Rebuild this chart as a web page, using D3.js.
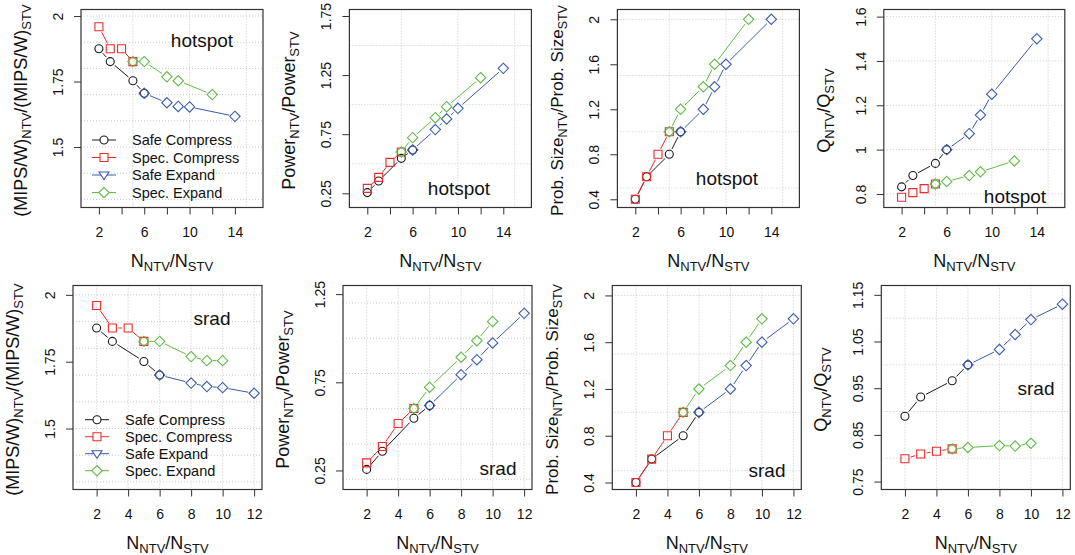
<!DOCTYPE html>
<html>
<head>
<meta charset="utf-8">
<script src="https://cdn.jsdelivr.net/npm/d3@7"></script>
<style>
  body { margin: 0; background: #fff; }
  text { font-family: "Liberation Sans", Arial, Helvetica, sans-serif; fill: #111; }
</style>
</head>
<body>
<div id="visualization"></div>
<script>
// series order: Safe Compress, Spec. Compress, Safe Expand, Spec. Expand
var seriesNames = ["Safe Compress", "Spec. Compress", "Safe Expand", "Spec. Expand"];

// x values (N_NTV / N_STV) for each series
var safeCompressX = [2, 3, 5, 6];
var specCompressX = [2, 3, 4, 5];
var safeExpandHotspotX = [6, 8, 9, 10, 14];
var specExpandHotspotX = [5, 6, 8, 9, 12];
var safeExpandSradX = [6, 8, 9, 10, 12];
var specExpandSradX = [5, 6, 8, 9, 10];

// hotspot
var hotspotMipsW = [[1.875, 1.826, 1.753, 1.705], [1.959, 1.875, 1.875, 1.826],
                    [1.705, 1.669, 1.655, 1.653, 1.617], [1.826, 1.826, 1.768, 1.753, 1.70]];
var hotspotPower = [[0.256, 0.354, 0.546, 0.617], [0.292, 0.385, 0.512, 0.60],
                    [0.617, 0.789, 0.879, 0.969, 1.307], [0.60, 0.721, 0.89, 0.983, 1.228]];
var hotspotProbSize = [[0.4, 0.6, 0.8, 1.0], [0.4, 0.6, 0.8, 1.0],
                       [1.0, 1.2, 1.4, 1.6, 2.0], [1.0, 1.2, 1.4, 1.6, 2.0]];
var hotspotQ = [[0.832, 0.883, 0.938, 1.0], [0.785, 0.806, 0.824, 0.845],
                [1.0, 1.072, 1.156, 1.25, 1.50], [0.845, 0.856, 0.883, 0.90, 0.949]];

// srad
var sradMipsW = [[1.876, 1.826, 1.751, 1.70], [1.96, 1.876, 1.876, 1.826],
                 [1.70, 1.67, 1.657, 1.653, 1.632], [1.826, 1.826, 1.769, 1.754, 1.754]];
var sradPower = [[0.256, 0.359, 0.546, 0.618], [0.293, 0.386, 0.516, 0.601],
                 [0.618, 0.793, 0.878, 0.973, 1.141], [0.601, 0.722, 0.892, 0.986, 1.095]];
var sradProbSize = [[0.4, 0.6, 0.8, 1.0], [0.4, 0.6, 0.8, 1.0],
                    [1.0, 1.2, 1.4, 1.6, 1.8], [1.0, 1.2, 1.4, 1.6, 1.8]];
var sradQ = [[0.89, 0.931, 0.966, 1.0], [0.799, 0.809, 0.815, 0.82],
             [1.0, 1.033, 1.065, 1.097, 1.13], [0.82, 0.823, 0.827, 0.826, 0.832]];

// tick labels
var hotspotXTicks = [2, 4, 6, 8, 10, 12, 14];
var hotspotXLabels = [2, 6, 10, 14];
var sradXTicks = [2, 4, 6, 8, 10, 12];
var sradXLabels = [2, 4, 6, 8, 10, 12];
var mipsYTicks = [1.5, 1.75, 2];
var powerHotspotYTicks = [0.25, 0.75, 1.25, 1.75];
var powerSradYTicks = [0.25, 0.75, 1.25];
var probYTicks = [0.4, 0.8, 1.2, 1.6, 2];
var qHotspotYTicks = [0.8, 1, 1.2, 1.4, 1.6];
var qSradYTicks = [0.75, 0.85, 0.95, 1.05, 1.15];

var colors = ["#1a1a1a", "#ee2a2a", "#3a5bb0", "#5fbb45"];
var shapes = ["circle", "square", "diamond", "diamond"];

var svg = d3.select("#visualization").append("svg")
  .attr("width", 1075)
  .attr("height", 555);

var topY = 9.5, topH = 198, botY = 285.5, botH = 204;

var panels = [
  {left: 81,    top: topY, w: 182, h: topH, xdom: [0.42, 16.48], ydom: [1.269, 2.025], vals: hotspotMipsW,
   xs: [safeCompressX, specCompressX, safeExpandHotspotX, specExpandHotspotX], xt: hotspotXTicks, xl: hotspotXLabels,
   yt: mipsYTicks, yg: [1.3, 1.4, 1.5, 1.6, 1.7, 1.8, 1.9, 2.0], xg: [5, 10, 15], ylab: "mips",
   tag: "hotspot", tagX: 202, tagY: 47, legend: true},
  {left: 349.4, top: topY, w: 182, h: topH, xdom: [0.42, 16.48], ydom: [0.13, 1.805], vals: hotspotPower,
   xs: [safeCompressX, specCompressX, safeExpandHotspotX, specExpandHotspotX], xt: hotspotXTicks, xl: hotspotXLabels,
   yt: powerHotspotYTicks, yg: [0.5, 1.0, 1.5], xg: [5, 10, 15], ylab: "power",
   tag: "hotspot", tagX: 459, tagY: 195},
  {left: 617.4, top: topY, w: 182, h: topH, xdom: [0.42, 16.48], ydom: [0.327, 2.087], vals: hotspotProbSize,
   xs: [safeCompressX, specCompressX, safeExpandHotspotX, specExpandHotspotX], xt: hotspotXTicks, xl: hotspotXLabels,
   yt: probYTicks, yg: [0.5, 1.0, 1.5, 2.0], xg: [5, 10, 15], ylab: "prob",
   tag: "hotspot", tagX: 727, tagY: 185},
  {left: 883.8, top: topY, w: 181, h: topH, xdom: [0.42, 16.48], ydom: [0.739, 1.632], vals: hotspotQ,
   xs: [safeCompressX, specCompressX, safeExpandHotspotX, specExpandHotspotX], xt: hotspotXTicks, xl: hotspotXLabels,
   yt: qHotspotYTicks, yg: [0.8, 1.0, 1.2, 1.4, 1.6], xg: [5, 10, 15], ylab: "q",
   tag: "hotspot", tagX: 1015, tagY: 203},
  {left: 73,    top: botY, w: 189, h: botH, xdom: [0.5, 12.5], ydom: [1.272, 2.035], vals: sradMipsW,
   xs: [safeCompressX, specCompressX, safeExpandSradX, specExpandSradX], xt: sradXTicks, xl: sradXLabels,
   yt: mipsYTicks, yg: [1.3, 1.4, 1.5, 1.6, 1.7, 1.8, 1.9, 2.0], xg: [2, 4, 6, 8, 10, 12], ylab: "mips",
   tag: "srad", tagX: 212, tagY: 325, legend: true},
  {left: 343,   top: botY, w: 189, h: botH, xdom: [0.5, 12.5], ydom: [0.142, 1.299], vals: sradPower,
   xs: [safeCompressX, specCompressX, safeExpandSradX, specExpandSradX], xt: sradXTicks, xl: sradXLabels,
   yt: powerSradYTicks, yg: [0.2, 0.4, 0.6, 0.8, 1.0, 1.2], xg: [2, 4, 6, 8, 10, 12], ylab: "power",
   tag: "srad", tagX: 498, tagY: 475},
  {left: 612.3, top: botY, w: 189, h: botH, xdom: [0.5, 12.5], ydom: [0.34, 2.085], vals: sradProbSize,
   xs: [safeCompressX, specCompressX, safeExpandSradX, specExpandSradX], xt: sradXTicks, xl: sradXLabels,
   yt: probYTicks, yg: [0.5, 1.0, 1.5, 2.0], xg: [2, 4, 6, 8, 10, 12], ylab: "prob",
   tag: "srad", tagX: 767, tagY: 477},
  {left: 881.3, top: botY, w: 189, h: botH, xdom: [0.5, 12.5], ydom: [0.733, 1.17], vals: sradQ,
   xs: [safeCompressX, specCompressX, safeExpandSradX, specExpandSradX], xt: sradXTicks, xl: sradXLabels,
   yt: qSradYTicks, yg: [0.8, 0.9, 1.0, 1.1], xg: [2, 4, 6, 8, 10, 12], ylab: "q",
   tag: "srad", tagX: 1036, tagY: 395}
];

// y axis label pieces: [main, sub, main, sub]
var yLabels = {
  mips: ["(MIPS/W)", "NTV", "/(MIPS/W)", "STV"],
  power: ["Power", "NTV", "/Power", "STV"],
  prob: ["Prob. Size", "NTV", "/Prob. Size", "STV"],
  q: ["Q", "NTV", "/Q", "STV"]
};

function symbolPath(shape, cx, cy) {
  if (shape == "circle") {
    var r = 4;
    return "M" + (cx - r) + "," + cy + "a" + r + "," + r + " 0 1,0 " + (2 * r) + ",0a" + r + "," + r + " 0 1,0 " + (-2 * r) + ",0Z";
  } else if (shape == "square") {
    var s = 4;
    return "M" + (cx - s) + "," + (cy - s) + "h" + (2 * s) + "v" + (2 * s) + "h" + (-2 * s) + "Z";
  } else if (shape == "diamond") {
    var d = 5.2;
    return "M" + cx + "," + (cy - d) + "L" + (cx + d) + "," + cy + "L" + cx + "," + (cy + d) + "L" + (cx - d) + "," + cy + "Z";
  } else {
    // down triangle
    var t = 5;
    return "M" + (cx - t) + "," + (cy - t * 0.6) + "L" + (cx + t) + "," + (cy - t * 0.6) + "L" + cx + "," + (cy + t * 0.9) + "Z";
  }
}

function addSubLabel(g, parts, bigSize, smallSize) {
  g.append("tspan").text(parts[0]).attr("font-size", bigSize);
  g.append("tspan").text(parts[1]).attr("font-size", smallSize).attr("dy", 4);
  g.append("tspan").text(parts[2]).attr("font-size", bigSize).attr("dy", -4);
  g.append("tspan").text(parts[3]).attr("font-size", smallSize).attr("dy", 4);
}

panels.forEach(function(p) {
  var g = svg.append("g").attr("transform", "translate(" + p.left + "," + p.top + ")");
  var x = d3.scaleLinear().domain(p.xdom).range([0, p.w]);
  var y = d3.scaleLinear().domain(p.ydom).range([p.h, 0]);

  // dotted grid
  g.selectAll(".hg").data(p.yg).enter().append("line")
    .attr("x1", 0).attr("x2", p.w)
    .attr("y1", function(d) { return y(d); }).attr("y2", function(d) { return y(d); })
    .attr("stroke", "#c8c8c8").attr("stroke-width", 1).attr("stroke-dasharray", "1,2");
  g.selectAll(".vg").data(p.xg).enter().append("line")
    .attr("y1", 0).attr("y2", p.h)
    .attr("x1", function(d) { return x(d); }).attr("x2", function(d) { return x(d); })
    .attr("stroke", "#c8c8c8").attr("stroke-width", 1).attr("stroke-dasharray", "1,2");

  // series: lines with gaps round the points (like R type="b")
  var gap = 6;
  p.vals.forEach(function(vals, si) {
    var xs = p.xs[si];
    var pts = vals.map(function(v, i) { return [x(xs[i]), y(v)]; });
    for (var i = 0; i < pts.length - 1; i++) {
      var dx = pts[i + 1][0] - pts[i][0], dy = pts[i + 1][1] - pts[i][1];
      var len = Math.sqrt(dx * dx + dy * dy);
      if (len <= 2 * gap) continue;
      var ux = dx / len, uy = dy / len;
      g.append("line")
        .attr("x1", pts[i][0] + ux * gap).attr("y1", pts[i][1] + uy * gap)
        .attr("x2", pts[i + 1][0] - ux * gap).attr("y2", pts[i + 1][1] - uy * gap)
        .attr("stroke", colors[si]).attr("stroke-width", 1);
    }
    pts.forEach(function(pt) {
      g.append("path").attr("d", symbolPath(shapes[si], pt[0], pt[1]))
        .attr("fill", "none").attr("stroke", colors[si]).attr("stroke-width", 1.1);
    });
  });

  // box
  g.append("rect").attr("x", 0).attr("y", 0).attr("width", p.w).attr("height", p.h)
    .attr("fill", "none").attr("stroke", "#333").attr("stroke-width", 1.2);

  // x axis
  var xAxis = g.append("g").attr("transform", "translate(0," + p.h + ")")
    .call(d3.axisBottom(x).tickValues(p.xt).tickSize(7)
      .tickFormat(function(d) { return p.xl.indexOf(d) >= 0 ? d : ""; }));
  xAxis.select(".domain").remove();
  xAxis.selectAll("line").attr("stroke", "#333");
  xAxis.selectAll("text").attr("y", 29).attr("dy", 0)
    .attr("font-size", "14px").attr("font-family", "Liberation Sans, Arial, sans-serif").attr("fill", "#111");

  // y axis, labels turned like R's
  var yAxis = g.append("g")
    .call(d3.axisLeft(y).tickValues(p.yt).tickSize(7).tickFormat(function(d) { return String(d); }));
  yAxis.select(".domain").remove();
  yAxis.selectAll("line").attr("stroke", "#333");
  yAxis.selectAll("text").attr("x", 0).attr("y", -18).attr("dy", 0)
    .attr("transform", "rotate(-90)").attr("text-anchor", "middle")
    .attr("font-size", "14px").attr("font-family", "Liberation Sans, Arial, sans-serif").attr("fill", "#111");

  // x label
  var xl = g.append("text").attr("x", p.w / 2).attr("y", p.h + 59).attr("text-anchor", "middle");
  addSubLabel(xl, ["N", "NTV", "/N", "STV"], "18px", "13px");

  // y label (the long one is a bit smaller so it fits)
  var big = p.ylab == "prob" ? "17px" : "18px";
  var small = p.ylab == "prob" ? "12.5px" : "13px";
  var yl = g.append("text").attr("transform", "translate(-54," + (p.h / 2 + 2) + ") rotate(-90)")
    .attr("text-anchor", "middle");
  addSubLabel(yl, yLabels[p.ylab], big, small);

  // benchmark name
  svg.append("text").attr("x", p.tagX).attr("y", p.tagY).attr("text-anchor", "middle")
    .attr("font-size", "19px").text(p.tag);

  // legend
  if (p.legend) {
    var lg = g.append("g");
    var ly0 = p.top < 100 ? 130.5 : 134.2;
    var lstep = p.top < 100 ? 17.5 : 17;
    var lx = p.top < 100 ? 23 : 24;
    var legShapes = ["circle", "square", "triangle", "diamond"];
    seriesNames.forEach(function(name, i) {
      var yy = ly0 + i * lstep;
      lg.append("line").attr("x1", lx - 12).attr("x2", lx + 12).attr("y1", yy).attr("y2", yy)
        .attr("stroke", colors[i]).attr("stroke-width", 1);
      lg.append("path").attr("d", symbolPath(legShapes[i], lx, yy))
        .attr("fill", "white").attr("stroke", colors[i]).attr("stroke-width", 1.1);
      lg.append("text").attr("x", lx + 28).attr("y", yy + 5).attr("font-size", "14.5px").text(name);
    });
  }
});
</script>
</body>
</html>
